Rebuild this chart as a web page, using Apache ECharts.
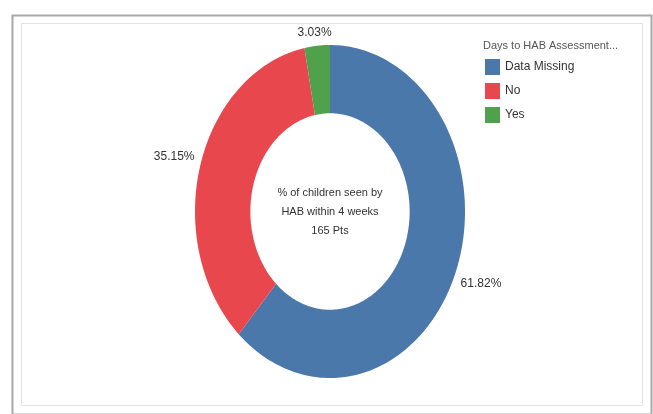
<!DOCTYPE html>
<html style="height: 100%">
<head>
    <meta charset="utf-8">
    <script src="https://cdn.jsdelivr.net/npm/echarts@6/dist/echarts.min.js"></script>
</head>
<body style="height: 100%; margin: 0; background: #fff">
    <div id="main" style="width:653px;height:414px;"></div>
    <script type="text/javascript">
        // data
        var categories = ['Data Missing', 'No', 'Yes'];
        var counts = [102, 58, 5];
        var pctLabels = ['61.82%', '35.15%', '3.03%'];
        var colors = ['#4a78ab', '#e9474e', '#4fa24b'];
        var legendTitle = 'Days to HAB Assessment...';
        var centerText = '% of children seen by\nHAB within 4 weeks\n165 Pts';

        var total = counts.reduce(function (a, b) { return a + b; }, 0);
        var starts = [];
        var acc = 0;
        for (var i = 0; i < counts.length; i++) {
            starts.push(acc / total);
            acc += counts[i];
        }
        var innerR = 0.59;

        function makeRender(idx) {
            return function (params, api) {
                var v = api.value(0);
                var a0 = starts[idx] * Math.PI * 2;
                var a1 = a0 + v / total * Math.PI * 2;
                var pts = [];
                var n = Math.max(4, Math.ceil((a1 - a0) / 0.02));
                for (var k = 0; k <= n; k++) {
                    var t = a0 + (a1 - a0) * k / n;
                    pts.push(api.coord([Math.sin(t), Math.cos(t)]));
                }
                for (var k = n; k >= 0; k--) {
                    var t = a0 + (a1 - a0) * k / n;
                    pts.push(api.coord([innerR * Math.sin(t), innerR * Math.cos(t)]));
                }
                // label outside the ring, kept inside the pane at the top
                var am = (a0 + a1) / 2;
                var lp = api.coord([1.2 * Math.sin(am), 1.2 * Math.cos(am)]);
                var ly = Math.max(lp[1], 33);
                return {
                    type: 'group',
                    children: [{
                        type: 'polygon',
                        shape: { points: pts },
                        style: { fill: colors[idx] }
                    }, {
                        type: 'text',
                        x: lp[0],
                        y: ly,
                        style: {
                            text: pctLabels[idx],
                            fill: '#333',
                            font: '12px "Liberation Sans", Arial, sans-serif',
                            align: 'center',
                            verticalAlign: 'middle'
                        }
                    }]
                };
            };
        }

        var series = [];
        for (var i = 0; i < categories.length; i++) {
            series.push({
                type: 'custom',
                name: categories[i],
                clip: false,
                silent: true,
                itemStyle: { color: colors[i] },
                renderItem: makeRender(i),
                data: [[counts[i], i]]
            });
        }

        var myChart = echarts.init(document.getElementById('main'));
        var option = {
            animation: false,
            color: colors,
            grid: { left: 195, top: 45, width: 270, height: 333 },
            xAxis: { type: 'value', min: -1, max: 1, show: false },
            yAxis: { type: 'value', min: -1, max: 1, show: false },
            title: {
                text: legendTitle,
                left: 483,
                top: 40,
                padding: 0,
                textStyle: { fontSize: 11, fontWeight: 'normal', color: '#555', fontFamily: 'Liberation Sans' }
            },
            legend: {
                orient: 'vertical',
                left: 485,
                top: 59,
                padding: 0,
                icon: 'rect',
                itemWidth: 15,
                itemHeight: 16,
                itemGap: 8,
                textStyle: { fontSize: 12, color: '#333', fontFamily: 'Liberation Sans' },
                data: categories
            },
            graphic: [{
                type: 'rect',
                left: 10, top: 13,
                shape: { width: 639, height: 399 },
                style: { fill: 'none', stroke: '#a8a8a8', lineWidth: 2 },
                z: -10
            }, {
                type: 'rect',
                left: 19, top: 21,
                shape: { width: 621, height: 382 },
                style: { fill: 'none', stroke: '#e2e2e2', lineWidth: 1 },
                z: -10
            }, {
                type: 'text',
                x: 330, y: 212,
                style: {
                    text: centerText,
                    fill: '#333',
                    font: '11px "Liberation Sans", Arial, sans-serif',
                    lineHeight: 19,
                    align: 'center',
                    verticalAlign: 'middle'
                }
            }],
            series: series
        };
        myChart.setOption(option);
    </script>
</body>
</html>
